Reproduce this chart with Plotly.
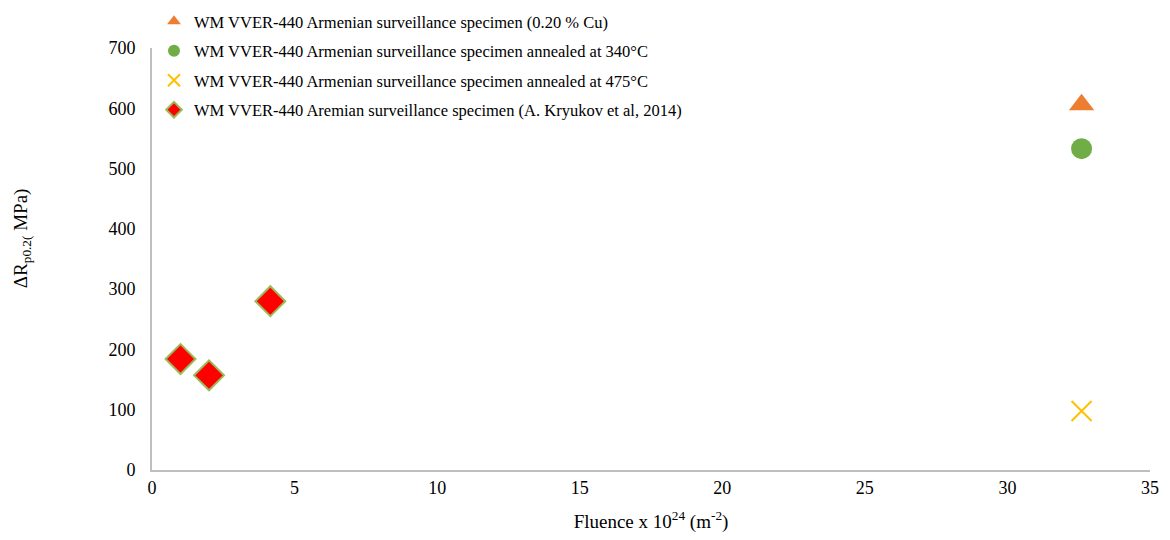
import plotly.graph_objects as go

# Data
kryukov_x = [1.0, 2.0, 4.15]
kryukov_y = [184, 157, 280]
cu_x = [32.6]
cu_y = [606]
ann340_x = [32.6]
ann340_y = [533]
ann475_x = [32.6]
ann475_y = [98]

names = [
    "WM VVER-440 Armenian surveillance specimen (0.20 % Cu)",
    "WM VVER-440 Armenian surveillance specimen annealed at 340°C",
    "WM VVER-440 Armenian surveillance specimen annealed at 475°C",
    "WM VVER-440 Aremian surveillance specimen (A. Kryukov et al, 2014)",
]

fig = go.Figure()
fig.add_trace(go.Scatter(x=cu_x, y=cu_y, mode="markers", name=names[0], legendgroup="a",
                         marker=dict(symbol="triangle-up", size=22, color="#ED7D31")))
fig.add_trace(go.Scatter(x=ann340_x, y=ann340_y, mode="markers", name=names[1], legendgroup="b",
                         marker=dict(symbol="circle", size=21, color="#70AD47")))
fig.add_trace(go.Scatter(x=ann475_x, y=ann475_y, mode="markers", name=names[2], legendgroup="c",
                         marker=dict(symbol="x-thin-open", size=20, color="#FFC000",
                                     line=dict(width=2, color="#FFC000"))))
fig.add_trace(go.Scatter(x=kryukov_x, y=kryukov_y, mode="markers", name=names[3], legendgroup="d",
                         marker=dict(symbol="diamond", size=23, color="#FF0000",
                                     line=dict(width=2, color="#9BBB59"))))

font = "Liberation Serif, Times New Roman, serif"
fig.update_layout(
    width=1162, height=532,
    paper_bgcolor="white", plot_bgcolor="white",
    margin=dict(l=144, r=20, t=40, b=70, autoexpand=False),
    font=dict(family=font, size=17, color="#000000"),
    legend=dict(x=0.002, y=1.104, xref="paper", yref="paper",
                xanchor="left", yanchor="top", bgcolor="rgba(0,0,0,0)",
                itemsizing="constant", tracegroupgap=5, font=dict(size=16.5),
                itemwidth=30),
    xaxis=dict(range=[0, 35], tickvals=[0, 5, 10, 15, 20, 25, 30, 35], showgrid=False,
               zeroline=False, showline=True, linecolor="#BFBFBF", linewidth=2,
               ticks="", tickfont=dict(size=18), automargin=False,
               title=dict(text="Fluence x 10<sup>24</sup> (m<sup>-2</sup>)", font=dict(size=19), standoff=18)),
    yaxis=dict(range=[0, 700], tickvals=[0, 100, 200, 300, 400, 500, 600, 700], showgrid=False,
               zeroline=False, showline=True, linecolor="#BFBFBF", linewidth=2,
               ticks="", tickfont=dict(size=18), ticklabelstandoff=11, automargin=False),
    annotations=[dict(text="ΔR<sub>p0.2</sub><sub>(</sub> MPa)", textangle=-90,
                      xref="paper", yref="paper", x=-0.13, y=0.55,
                      xanchor="center", yanchor="middle", showarrow=False,
                      font=dict(size=19))],
)

fig.write_html("out.html")
